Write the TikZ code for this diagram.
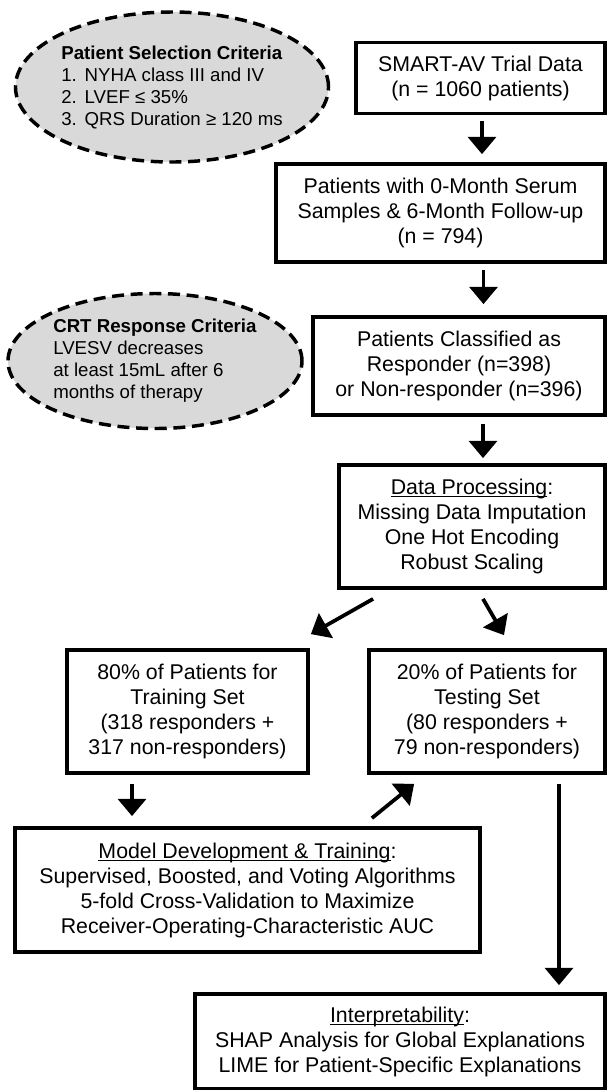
\documentclass[tikz,border=0pt]{standalone}
\usepackage{fontspec}
\setmainfont{Liberation Sans}
\usetikzlibrary{arrows.meta,shapes.geometric,calc}

\newcommand{\headu}[1]{\setbox0\hbox{#1}\rlap{\rule[-2pt]{\wd0}{0.75pt}}\box0}

\tikzset{
  box/.style={draw, line width=2.8pt, align=center, inner sep=0pt,
    font=\fontsize{16}{18.75}\selectfont},
  crit/.style={ellipse, draw, line width=2.6pt, dash pattern=on 9pt off 5pt,
    fill=black!15, align=left, inner sep=0pt,
    font=\fontsize{14}{16.5}\selectfont},
  arr/.style={line width=2.8pt, -{Triangle[width=21pt,length=13pt]}}
}

\begin{document}
\begin{tikzpicture}[x=0.75pt, y=-0.75pt]
    \useasboundingbox (0,0) rectangle (607,1090);

    \node[crit, minimum width=231.75pt, minimum height=112.5pt] (selcrit) at (172,87)
      {\textbf{Patient Selection Criteria}\\
       \makebox[1.25em][l]{1.}NYHA class III and IV\\
       \makebox[1.25em][l]{2.}LVEF ≤ 35\%\\
       \makebox[1.25em][l]{3.}QRS Duration ≥ 120 ms};
    \node[crit, minimum width=220.5pt, minimum height=101.25pt] (respcrit) at (155,361)
      {\textbf{CRT Response Criteria}\\
       LVESV decreases\\
       at least 15mL after 6\\
       months of therapy};

    \node[box, minimum width=186.75pt, minimum height=53.25pt] (trial) at (480.5,78)
      {SMART-AV Trial Data\\(n = 1060 patients)};
    \node[box, minimum width=246.75pt, minimum height=73.5pt] (serum) at (440.5,213)
      {Patients with 0-Month Serum\\Samples \& 6-Month Follow-up\\(n = 794)};
    \node[box, minimum width=219pt, minimum height=73.5pt] (classed) at (459,366)
      {Patients Classified as\\Responder (n=398)\\or Non-responder (n=396)};
    \node[box, minimum width=199.5pt, minimum height=92.25pt] (proc) at (472,526.5)
      {\headu{Data Processing}:\\Missing Data Imputation\\One Hot Encoding\\Robust Scaling};
    \node[box, minimum width=180.75pt, minimum height=92.25pt] (train) at (187.5,711.5)
      {80\% of Patients for\\Training Set\\(318 responders +\\317 non-responders)};
    \node[box, minimum width=177pt, minimum height=92.25pt] (test) at (487,711.5)
      {20\% of Patients for\\Testing Set\\(80 responders +\\79 non-responders)};
    \node[box, minimum width=348.75pt, minimum height=93pt] (model) at (247.5,890)
      {\headu{Model Development \& Training}:\\Supervised, Boosted, and Voting Algorithms\\
       5-fold Cross-Validation to Maximize\\Receiver-Operating-Characteristic AUC};
    \node[box, minimum width=307.5pt, minimum height=71.25pt] (interp) at (400,1041.5)
      {\headu{Interpretability}:\\SHAP Analysis for Global Explanations\\
       LIME for Patient-Specific Explanations};

    \draw[arr] ($(trial.south)+(1.5,6)$) -- ($(trial.south |- serum.north)+(1.5,-8)$);
    \draw[arr] ($(serum.south -| trial.south)+(3,6)$) -- ($(classed.north -| trial.south)+(3,-11)$);
    \draw[arr] ($(classed.south -| trial.south)+(2.5,7)$) -- ($(proc.north -| trial.south)+(2.5,-5)$);
    \draw[arr] ($(proc.south west)+(36,9)$) -- ($(train.north east)+(1,-14)$);
    \draw[arr] ($(proc.south)+(11,9)$) -- ($(test.north)+(17,-13)$);
    \draw[arr] ($(train.south)+(-55.5,9)$) -- ($(train.south |- model.north)+(-55.5,-10)$);
    \draw[arr] ($(model.north east)+(-110,-8)$) -- ($(test.south west)+(47,9)$);
    \draw[arr] ($(test.south)+(72,9)$) -- ($(test.south |- interp.north)+(72,-7)$);
\end{tikzpicture}
\end{document}
